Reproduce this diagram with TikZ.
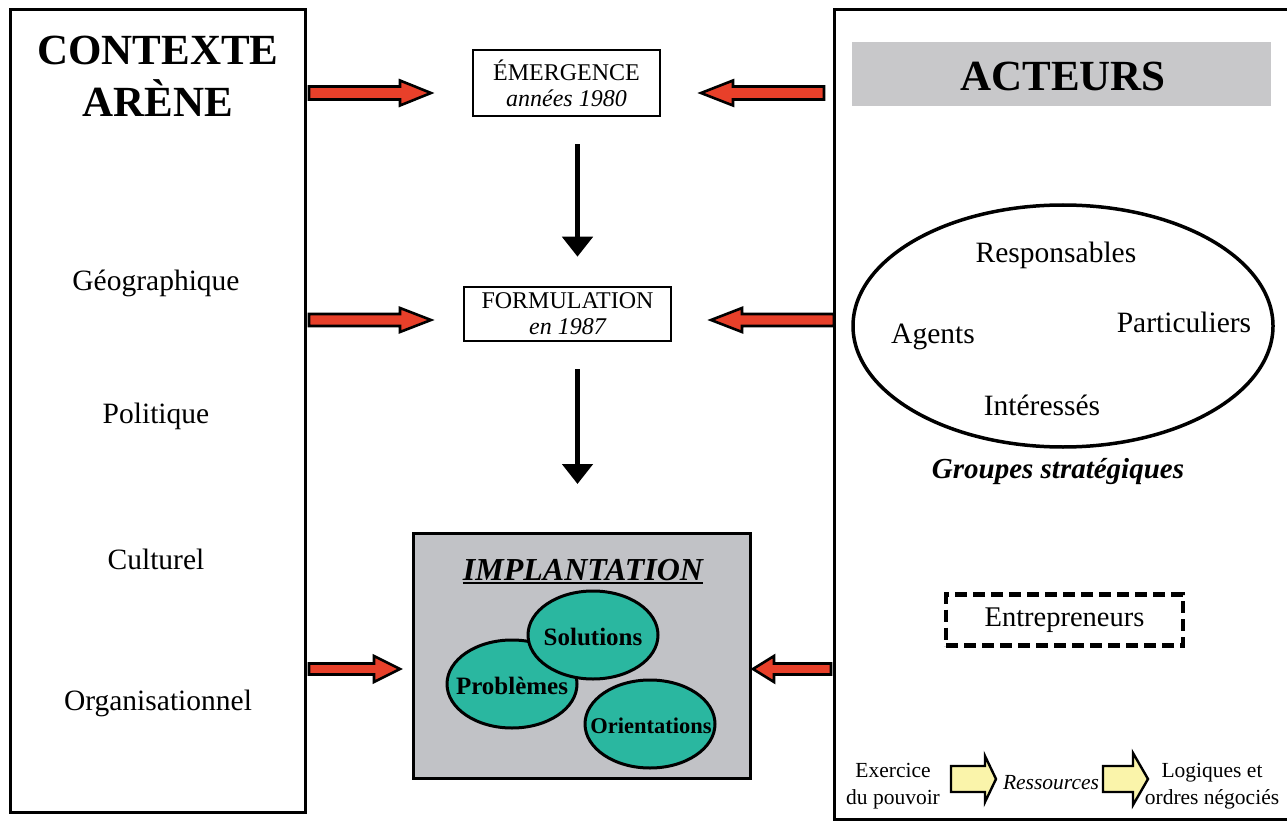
\documentclass[tikz,border=0pt]{standalone}
\usepackage{fontspec}
\setmainfont{Liberation Serif}
\usetikzlibrary{shapes.geometric,arrows.meta}
\definecolor{arrred}{RGB}{232,64,42}
\definecolor{teal2}{RGB}{42,183,160}
\definecolor{implgray}{RGB}{193,194,198}
\definecolor{bargray}{RGB}{200,200,202}
\definecolor{paleyel}{RGB}{250,244,170}
\newcommand{\blockarr}[7]{%
  \pgfmathsetmacro\myhs{#2-sign(#2-#1)*#6}%
  \draw[#7] (#1,{#3-#4}) -- (\myhs,{#3-#4}) -- (\myhs,{#3-#5}) -- (#2,#3)
    -- (\myhs,{#3+#5}) -- (\myhs,{#3+#4}) -- (#1,{#3+#4}) -- cycle;}
\tikzset{
  redarr/.style={fill=arrred,draw=black,line width=2.6,line join=miter},
  yelarr/.style={fill=paleyel,draw=black,line width=2.4,line join=miter},
  stagebox/.style={draw,line width=2.6,align=center,inner sep=0pt,
    font=\fontsize{24}{26}\selectfont},
  txt/.style={inner sep=0pt,font=\fontsize{29.5}{32}\selectfont},
  small/.style={inner sep=0pt,align=center,font=\fontsize{21.5}{27}\selectfont},
  teal ell/.style={ellipse,draw,line width=3,fill=teal2,inner sep=0pt,
    minimum width=130,minimum height=88},
  teal txt/.style={inner sep=0pt,font=\bfseries\fontsize{25}{28}\selectfont},
  downarr/.style={line width=5,-{Triangle[width=30pt,length=20pt]}},
  bigtitle/.style={inner sep=0pt,font=\bfseries\fontsize{43}{52}\selectfont,align=center}
}
\begin{document}
\begin{tikzpicture}[x=1pt,y=-1pt]
\useasboundingbox (0,0) rectangle (1287,821);
\clip (0,0) rectangle (1287,821);
\fill[white] (0,0) rectangle (1287,821);

% left box
\node[draw,line width=3,minimum width=295,minimum height=802,inner sep=0] (ctx) at (157.5,411) {};
\node[bigtitle] (ctxtitle) at (158,76) {CONTEXTE\\ARÈNE};
\node[txt] (geo) at (156,283) {Géographique};
\node[txt] (pol) at (156,416) {Politique};
\node[txt] (cul) at (156,559) {Culturel};
\node[txt] (org) at (158,703) {Organisationnel};

% right box
\draw[line width=3] (834,819) rectangle (1300,10);
\fill[bargray] (852,42) rectangle (1271,106);
\node[bigtitle] (act) at (1063,76) {ACTEURS};
\node[ellipse,draw,line width=3.5,minimum width=420,minimum height=242,inner sep=0] (grp) at (1063,326) {};
\node[txt,anchor=base] (resp) at (1056,262) {Responsables};
\node[txt,anchor=base] (agents) at (933,343) {Agents};
\node[txt,anchor=base] (part) at (1184,332) {Particuliers};
\node[txt,anchor=base] (inter) at (1042,415) {Intéressés};
\node[txt,anchor=base,font=\bfseries\itshape\fontsize{29}{32}\selectfont] (gs) at (1058,478) {Groupes stratégiques};
\node[draw,line width=4.5,dash pattern=on 12pt off 6pt,minimum width=237,minimum height=51,inner sep=0,
  font=\fontsize{28.5}{32}\selectfont] (entre) at (1064.5,620) {\raisebox{-2pt}{Entrepreneurs}};

% bottom line of right box
\node[small] (exer) at (893,786) {Exercice\\du pouvoir};
\node[small,font=\itshape\fontsize{21.5}{27}\selectfont] (ress) at (1051,783) {Ressources};
\node[small] (logi) at (1212,786) {Logiques et\\ordres négociés};
\blockarr{951}{996}{779}{13}{23}{11}{yelarr}
\blockarr{1103}{1148}{779}{13}{26}{15}{yelarr}

% stages
\node[stagebox,minimum width=187,minimum height=66] (em) at (566.5,83) {ÉMERGENCE\\\itshape années 1980};
\node[stagebox,minimum width=207,minimum height=54] (form) at (567.5,314) {FORMULATION\\\itshape en 1987};
\node[draw,line width=3,fill=implgray,minimum width=337,minimum height=245,inner sep=0] (impl) at (581.5,655.5) {};
\node[inner sep=0,font=\bfseries\itshape\fontsize{32}{36}\selectfont] (impltitle) at (583,570) {IMPLANTATION};
\draw[line width=2] ([yshift=-3]impltitle.base west) -- ([yshift=-3]impltitle.base east);
\node[teal ell] (prob) at (512,684) {};
\node[teal txt] at (512,686) {Problèmes};
\node[teal ell] (sol) at (593,635) {};
\node[teal txt] at (593,637) {Solutions};
\node[teal ell] (ori) at (650,724) {};
\node[teal txt,font=\bfseries\fontsize{22.5}{26}\selectfont] at (651,726) {Orientations};

% down arrows
\coordinate (implTop) at (577.5,533);
\draw[downarr,shorten <=27pt,shorten >=29pt] ([xshift=11]em.south) -- ([xshift=10]form.north);
\draw[downarr,shorten <=27pt,shorten >=49pt] ([xshift=10]form.south) -- (implTop);

% red arrows
\blockarr{309}{431}{93}{6.5}{12.5}{31}{redarr}
\blockarr{824}{701}{93}{6.5}{12.5}{32}{redarr}
\blockarr{309}{431}{320}{6}{12}{31}{redarr}
\blockarr{834}{711}{320}{6}{12}{31}{redarr}
\blockarr{309}{400}{669}{5.5}{13}{26}{redarr}
\blockarr{831}{753}{669}{5.5}{13}{21}{redarr}
\end{tikzpicture}
\end{document}
